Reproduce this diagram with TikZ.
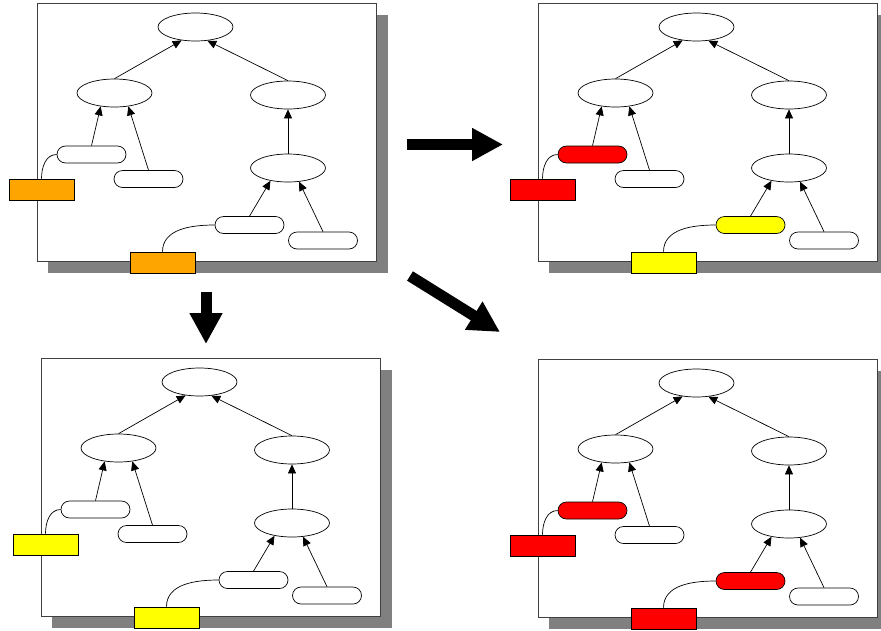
\documentclass[tikz,border=0pt]{standalone}
\usetikzlibrary{shapes.geometric,shapes.misc,arrows.meta}
\definecolor{tagorange}{HTML}{FFA500}
\definecolor{tagred}{HTML}{FF0000}
\definecolor{tagyellow}{HTML}{FFFF00}
\tikzstyle{inner node}=[
    draw,
    ellipse,
    fill = white,
    minimum width = 75pt,
    minimum height = 28pt,
    inner sep = 0pt
]
\tikzstyle{leaf node}=[
    draw,
    rounded rectangle,
    minimum width = 69pt,
    minimum height = 17pt,
    inner sep = 0pt
]
\tikzstyle{tag box}=[
    draw,
    rectangle,
    minimum width = 65pt,
    minimum height = 21pt,
    inner sep = 0pt
]

\begin{document}
\begin{tikzpicture}[x=1pt, y=-1pt, line width=0.7pt,
        edge/.style = {-{Triangle[length=9pt,width=8pt]}},
        big arrow/.style = {line width=11pt, -{Triangle[length=31pt,width=31pt]}}]
    \useasboundingbox (0,0) rectangle (881,630);

    % four copies of the tree, only the colours change
    \foreach \px/\py/\pre/\ca/\cb/\ta/\tb in {
            0/0/tl/white/white/tagorange/tagorange,
            501/0/tr/tagred/tagyellow/tagred/tagyellow,
            4/355/bl/white/white/tagyellow/tagyellow,
            501/356/br/tagred/tagred/tagred/tagred}{
    \begin{scope}[shift={(\px,\py)}, name prefix=\pre-]
        \fill[black!50] (48,15) rectangle (388,273);
        \draw[black!75, fill=white] (37,3) rectangle (376,261);

        \node[inner node] (root) at (195.5,27) {};
        \node[inner node] (m1) at (114.5,93) {};
        \node[inner node] (m2) at (288,95) {};
        \node[inner node] (r2) at (288,168) {};
        \node[leaf node, fill=\ca] (l1) at (91.5,154.5) {};
        \node[leaf node, fill=white] (l2) at (148.5,179) {};
        \node[leaf node, fill=\cb] (l3) at (249.5,225) {};
        \node[leaf node, fill=white] (l4) at (323,240.5) {};

        \draw[edge] (m1.north) -- (root.224);
        \draw[edge] (m2.north) -- (root.311);
        \draw[edge] (l1.north) -- (m1.224);
        \draw[edge] (l2.north) -- (m1.316);
        \draw[edge] (r2.north) -- (m2.south);
        \draw[edge] (l3.north) -- (r2.216);
        \draw[edge] (l4.north) -- (r2.309);

        \node[tag box, fill=\ta] (b1) at (41.5,189.5) {};
        \node[tag box, fill=\tb] (b2) at (162.5,262.5) {};
        \draw (b1.north) to[out=90, in=180] (l1.west);
        \draw (b2.north) to[out=90, in=180] (l3.west);
    \end{scope}
    }

    % the three big arrows between the panels
    \coordinate (right start) at (407,144.5);
    \coordinate (right end) at (503,144.5);
    \coordinate (down start) at (206,292);
    \coordinate (down end) at (206,344);
    \coordinate (diag start) at (410,276);
    \coordinate (diag end) at (500,332);
    \draw[big arrow] (right start) -- (right end);
    \draw[big arrow] (down start) -- (down end);
    \draw[big arrow] (diag start) -- (diag end);
\end{tikzpicture}
\end{document}
